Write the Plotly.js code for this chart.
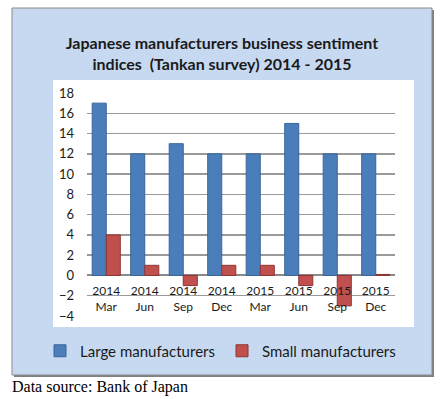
<!DOCTYPE html>
<html><head><meta charset="utf-8">
<script src="https://cdn.plot.ly/plotly-3.0.1.min.js"></script>
<style>html,body{margin:0;padding:0;background:#fff;}#c{width:444px;height:399px;}</style>
</head><body><div id="c"></div>
<script>
const categories = ["2014<br>Mar","2014<br>Jun","2014<br>Sep","2014<br>Dec","2015<br>Mar","2015<br>Jun","2015<br>Sep","2015<br>Dec"];
const largeValues = [17, 12, 13, 12, 12, 15, 12, 12];
const smallValues = [4, 1, -1, 1, 1, -1, -3, 0.1];
const yTicks = [-4,-2,0,2,4,6,8,10,12,14,16,18];

const L = 87, R = 395, T = 93, B = 316;
const W = R - L, H = B - T;
const px = x => (x - L) / W;
const py = y => (B - y) / H;

const traces = [
  {type:'bar', name:'Large manufacturers', x:categories, y:largeValues,
   marker:{color:'#4a7ebb', line:{color:'#3a6598', width:1}}},
  {type:'bar', name:'Small manufacturers', x:categories, y:smallValues,
   marker:{color:'#c0504d', line:{color:'#8f3533', width:1}}}
];

const layout = {
  width:444, height:399,
  margin:{l:L, r:444-R, t:T, b:399-B, pad:0},
  paper_bgcolor:'#ffffff', plot_bgcolor:'rgba(0,0,0,0)',
  font:{family:'Lato, "Open Sans", sans-serif', color:'#1a1a1a'},
  barmode:'group', bargap:0.27, bargroupgap:0,
  showlegend:true,
  title:{text:'<b>Japanese manufacturers business sentiment<br>indices  (Tankan survey) 2014 - 2015</b>',
    font:{size:16, family:'Lato, sans-serif', color:'#1a1a1a'},
    x:px(222), xanchor:'center', xref:'paper', y:1-(49/399), yanchor:'middle'},
  xaxis:{type:'category', anchor:'free', position:py(282), showgrid:false, showline:false,
    zeroline:false, ticks:'', tickfont:{size:12, family:'Lato, sans-serif', color:'#1a1a1a'}},
  yaxis:{range:[-4,18], tickvals:yTicks, showgrid:true, gridcolor:'#9a9a9a', gridwidth:1.5,
    zeroline:true, zerolinecolor:'#8a8a8a', zerolinewidth:2, showline:false, ticks:'',
    ticklabelstandoff:12, tickfont:{size:13, family:'Lato, sans-serif', color:'#1a1a1a'}},
  legend:{orientation:'h', xref:'paper', yref:'paper', x:px(40), xanchor:'left',
    y:py(351), yanchor:'middle',
    font:{size:15, family:'Lato, sans-serif', color:'#1a1a1a'}, itemwidth:30, traceorder:'normal',
    entrywidth:137, entrywidthmode:'pixels', bgcolor:'rgba(0,0,0,0)'},
  shapes:[
    {type:'rect', xref:'paper', yref:'paper', x0:px(14), x1:px(434), y0:py(377), y1:py(10),
      fillcolor:'#808080', line:{width:0}, layer:'below'},
    {type:'rect', xref:'paper', yref:'paper', x0:px(12), x1:px(432), y0:py(375), y1:py(8),
      fillcolor:'#c6d9f1', line:{color:'#8a8a8a', width:1}, layer:'below'},
    {type:'rect', xref:'paper', yref:'paper', x0:px(53), x1:px(414), y0:py(327), y1:py(80),
      fillcolor:'#ffffff', line:{width:0}, layer:'below'}
  ],
  annotations:[
    {text:'Data source: Bank of Japan', xref:'paper', yref:'paper', x:px(10), y:py(387),
      xanchor:'left', yanchor:'middle', showarrow:false,
      font:{family:'"Liberation Serif", "Times New Roman", serif', size:16, color:'#000'}}
  ]
};
Plotly.newPlot('c', traces, layout, {displayModeBar:false, staticPlot:true});
</script></body></html>
